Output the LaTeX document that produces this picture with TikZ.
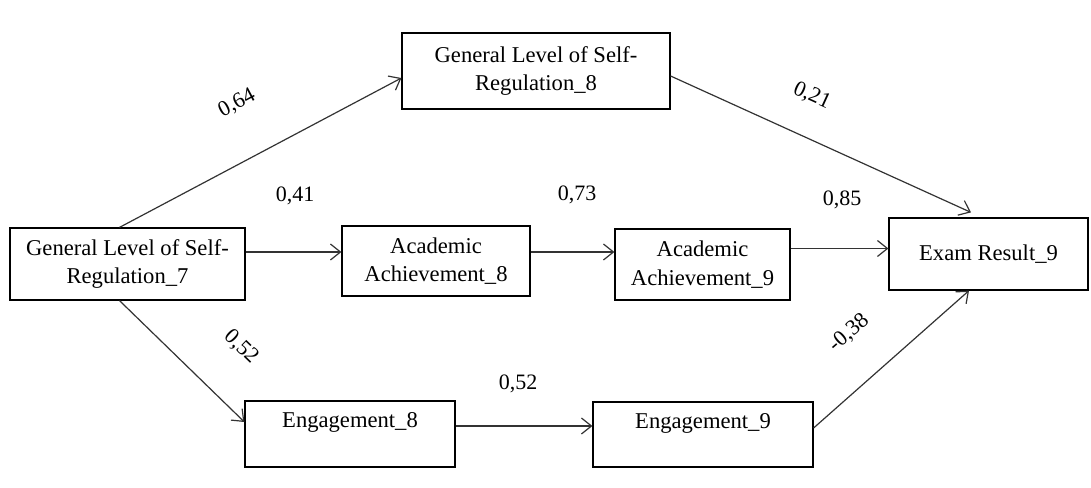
\documentclass[tikz,border=0pt]{standalone}
\usepackage{fontspec}
\setmainfont{Liberation Serif}
\usetikzlibrary{arrows.meta, calc}
\tikzset{>={Straight Barb[length=5pt,width=8pt]}}
\tikzset{
  var/.style={draw, line width=0.6pt, align=center, inner sep=2pt,
    font=\fontsize{11.3}{14.3}\selectfont},
  path/.style={->, line width=0.6pt, draw=black!80},
  coef/.style={inner sep=1pt, font=\fontsize{11}{13}\selectfont}
}

\begin{document}
\begin{tikzpicture}[x=0.5pt, y=-0.5pt]
\useasboundingbox (0,0) rectangle (1091,487);
% variables
\node[var, minimum width=117.5pt, minimum height=36pt] (s7) at (127.5,264) {General Level of Self-\\Regulation\_7};
\node[var, minimum width=134pt, minimum height=38pt] (s8) at (536,71) {General Level of Self-\\Regulation\_8};
\node[var, minimum width=94pt, minimum height=35pt] (aa8) at (436,261) {Academic\\Achievement\_8};
\node[var, minimum width=87.5pt, minimum height=35.5pt] (aa9) at (702.5,264.5) {Academic\\Achievement\_9};
\node[var, minimum width=99.5pt, minimum height=36pt] (ex) at (988.5,254) {Exam Result\_9};
\node[var, minimum width=105pt, minimum height=33pt] (e8) at (350,434) {Engagement\_8\\[-5pt]\strut};
\node[var, minimum width=110pt, minimum height=32.5pt] (e9) at (703,434.5) {Engagement\_9\\[-5pt]\strut};

% paths
\draw[path] ([xshift=-4pt]s7.north) -- ([yshift=-3.5pt]s8.west);
\draw[path] ([yshift=6pt]s7.east) -- ([yshift=6pt]s7.east -| aa8.west);
\draw[path] ([xshift=-4pt]s7.south) -- ([yshift=6pt]e8.west);
\draw[path] ([yshift=-2.5pt]s8.east) -- ([xshift=-8.75pt,yshift=2.5pt]ex.north);
\draw[path] ([yshift=4.5pt]aa8.east) -- ([yshift=4.5pt]aa8.east -| aa9.west);
\draw[path] ([yshift=8pt]aa9.east) -- ([yshift=8pt]aa9.east -| ex.west);
\draw[path] ([yshift=4pt]e8.east) -- ([yshift=4pt]e8.east -| e9.west);
\draw[path] ([yshift=3.25pt]e9.east) -- ([xshift=-9.75pt]ex.south);

% coefficients
\node[coef, rotate=28] (c64) at (237,103) {0,64};
\node[coef] (c41) at (295,196) {0,41};
\node[coef, rotate=-44] (c52a) at (241,347) {0,52};
\node[coef, rotate=-24.5] (c21) at (812,96) {0,21};
\node[coef] (c73) at (577,195) {0,73};
\node[coef] (c85) at (842,200) {0,85};
\node[coef] (c52b) at (518,384) {0,52};
\node[coef, rotate=41] (c38) at (849,333) {-0,38};
\end{tikzpicture}
\end{document}
